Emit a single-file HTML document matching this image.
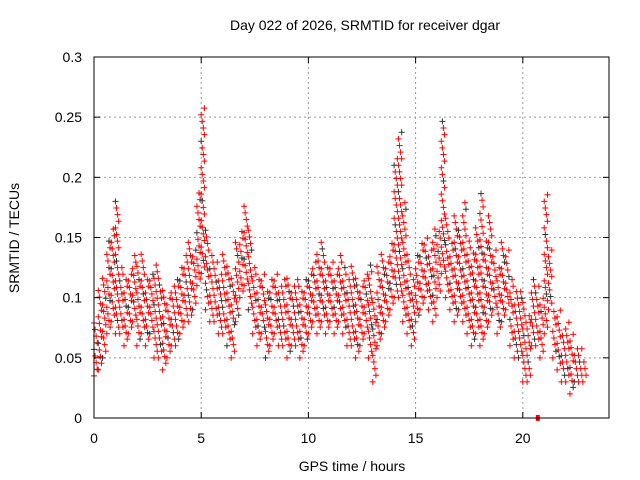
<!DOCTYPE html>
<html><head><meta charset="utf-8"><style>
body{margin:0;background:#fff}
svg{display:block;font-family:"Liberation Sans",sans-serif}
</style></head><body>
<svg id="c" width="640" height="480" viewBox="0 0 640 480">
<rect width="640" height="480" fill="#fff"/>
<g id="grid"></g>
<g id="pts"></g>
<rect x="94" y="57" width="515" height="361" fill="none" stroke="#000" stroke-width="1"/>
<g id="axes"></g>
<text x="365" y="30" text-anchor="middle" font-size="14" fill="#000">Day 022 of 2026, SRMTID for receiver dgar</text>
<text x="352" y="471" text-anchor="middle" font-size="14" fill="#000">GPS time / hours</text>
<text transform="translate(19,238) rotate(-90)" text-anchor="middle" font-size="14" fill="#000">SRMTID / TECUs</text>
</svg>
<script>
const xTicks=[0,5,10,15,20];
const yTicks=[0,0.05,0.1,0.15,0.2,0.25,0.3];
const yTickLabels=["0","0.05","0.1","0.15","0.2","0.25","0.3"];
const lowVals=[.035,.04,.05,.07,.08,.07,.07,.06,.07,.08,.06,.07,.06,.07,.05,.05,.04,.05,.06,.06,.07,.08,.08,.09,.11,.12,.09,.08,.08,.07,.07,.06,.05,.08,.10,.11,.09,.07,.06,.07,.05,.06,.07,.06,.06,.05,.06,.06,.05,.06,.07,.08,.07,.08,.07,.08,.07,.08,.07,.06,.06,.05,.06,.07,.05,.03,.06,.07,.08,.09,.10,.10,.08,.07,.06,.08,.09,.10,.09,.08,.10,.12,.10,.09,.08,.09,.08,.07,.06,.07,.06,.07,.08,.09,.07,.08,.09,.06,.05,.05,.03,.03,.06,.06,.05,.07,.09,.05,.04,.03,.03,.02,.03,.03,.03];
const highVals=[.08,.11,.12,.15,.16,.18,.13,.12,.12,.14,.13,.14,.12,.12,.13,.12,.11,.10,.11,.12,.13,.14,.15,.14,.19,.26,.16,.14,.13,.12,.14,.13,.12,.15,.16,.18,.16,.13,.12,.12,.11,.12,.12,.11,.12,.12,.11,.12,.11,.12,.12,.13,.14,.15,.13,.13,.12,.14,.13,.12,.13,.12,.11,.12,.13,.10,.13,.14,.13,.15,.22,.24,.18,.14,.12,.14,.15,.15,.14,.16,.16,.25,.17,.15,.17,.16,.18,.15,.14,.16,.19,.15,.17,.14,.13,.15,.14,.12,.11,.11,.10,.09,.12,.11,.10,.19,.14,.09,.09,.07,.08,.07,.06,.06,.05];
const timeStep=0.2;
const NS="http://www.w3.org/2000/svg";
const X=t=>94+t*21.44, Y=v=>418-v*1203.3;
function mk(tag,attrs,parent){const e=document.createElementNS(NS,tag);for(const k in attrs)e.setAttribute(k,attrs[k]);parent.appendChild(e);return e;}
const grid=document.getElementById('grid'),axes=document.getElementById('axes'),pts=document.getElementById('pts');
xTicks.forEach(t=>{
 if(t>0){const l=mk('line',{x1:X(t),x2:X(t),y1:57,y2:418,stroke:'#999','stroke-dasharray':'2,3'},grid);
 
 }
 mk('line',{x1:X(t),x2:X(t),y1:418,y2:412,stroke:'#000'},axes);
 mk('line',{x1:X(t),x2:X(t),y1:57,y2:63,stroke:'#000'},axes);
 const tx=mk('text',{x:X(t),y:443,'text-anchor':'middle','font-size':14},axes);tx.textContent=t;
 
 
});
yTicks.forEach((v,i)=>{
 if(v>0&&v<0.3){const l=mk('line',{x1:94,x2:609,y1:Y(v),y2:Y(v),stroke:'#999','stroke-dasharray':'2,3'},grid);
 
 }
 mk('line',{x1:94,x2:100,y1:Y(v),y2:Y(v),stroke:'#000'},axes);
 mk('line',{x1:609,x2:603,y1:Y(v),y2:Y(v),stroke:'#000'},axes);
 const tx=mk('text',{x:82,y:Y(v)+5,'text-anchor':'end','font-size':14},axes);tx.textContent=yTickLabels[i];
 
 
});
let d='',dk='',n=0;
lowVals.forEach((lo,i)=>{
 const hi=highVals[i],t=i*timeStep;
 for(let v=lo,k=0;v<=hi+1e-9;v+=0.0055,k++){
  const x=X(t+((k*3)%4)*0.05),y=Y(v);
  const s=`M${x-3},${y}h6M${x},${y-3}v6`;
  if(n++%9==4)dk+=s;else d+=s;
 }
});
const p1=mk('path',{d:d,stroke:'#f00','stroke-width':1,fill:'none'},pts);


const p2=mk('path',{d:dk,stroke:'#333','stroke-width':1,fill:'none'},pts);


const m=mk('rect',{x:X(20.7)-2,y:415,width:4,height:6,fill:'#f00'},pts);


</script>
</body></html>
